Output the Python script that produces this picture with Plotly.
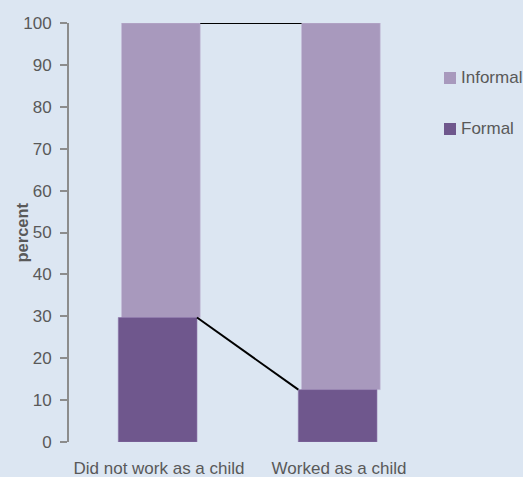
import plotly.graph_objects as go

categories = ["Did not work as a child", "Worked as a child"]
formal = [29.7, 12.5]
informal = [70.3, 87.5]
series_names = ["Informal", "Formal"]
y_ticks = [0, 10, 20, 30, 40, 50, 60, 70, 80, 90, 100]

C_INF = "#A899BD"
C_FOR = "#6F578D"
BG = "#DCE6F2"
TXT = "#595959"
FONT = "Liberation Sans, Arial, sans-serif"

xpos = list(range(len(categories)))
W = 0.437
OFF_INF = -0.208
OFF_FOR = -0.226

fig = go.Figure()
fig.add_trace(go.Bar(
    x=xpos, y=informal, base=formal, name=series_names[0],
    width=W, offset=OFF_INF, marker=dict(color=C_INF, line=dict(width=0.6, color="#C4BBD6")),
    showlegend=False))
fig.add_trace(go.Bar(
    x=xpos, y=formal, name=series_names[1],
    width=W, offset=OFF_FOR, marker=dict(color=C_FOR, line=dict(width=0.6, color="#8C74A8")),
    showlegend=False))

# connector lines between bar tops
tot = [f + i for f, i in zip(formal, informal)]
fig.add_trace(go.Scatter(
    x=[xpos[0] + OFF_INF + W, xpos[1] + OFF_INF], y=[tot[0], tot[1]],
    mode="lines", line=dict(color="black", width=2), showlegend=False, hoverinfo="skip"))
fig.add_trace(go.Scatter(
    x=[xpos[0] + OFF_FOR + W, xpos[1] + OFF_FOR], y=[formal[0], formal[1]],
    mode="lines", line=dict(color="black", width=2), showlegend=False, hoverinfo="skip"))

L, R, T, B = 69, 94, 23, 35
PW = 523 - L - R
PH = 477 - T - B

def px_x(p):
    return (p - L) / PW

def px_y(p):
    return 1 - (p - T) / PH

shapes = []
annotations = []
legend_items = [(series_names[0], C_INF, 78), (series_names[1], C_FOR, 129)]
for name, col, cy in legend_items:
    shapes.append(dict(type="rect", xref="paper", yref="paper",
                       x0=px_x(444), x1=px_x(456), y0=px_y(cy + 6), y1=px_y(cy - 6),
                       fillcolor=col, line=dict(width=0)))
    annotations.append(dict(text=name, xref="paper", yref="paper", x=px_x(459), y=px_y(cy),
                            xanchor="left", yanchor="middle", showarrow=False,
                            font=dict(size=17, color=TXT, family=FONT)))
annotations.append(dict(text="<b>percent</b>", xref="paper", yref="paper", x=px_x(21), y=0.5,
                        xanchor="center", yanchor="middle", textangle=-90, showarrow=False,
                        font=dict(size=16.5, color=TXT, family=FONT)))

fig.update_layout(
    width=523, height=477,
    margin=dict(l=L, r=R, t=T, b=B, pad=0),
    paper_bgcolor=BG, plot_bgcolor=BG,
    barmode="overlay",
    font=dict(family=FONT, size=17, color=TXT),
    shapes=shapes, annotations=annotations,
    xaxis=dict(range=[-0.5, 1.5], tickvals=xpos, ticktext=categories, showgrid=False,
               zeroline=False, showline=False, ticks="", ticklabelstandoff=14,
               automargin=False, fixedrange=True,
               tickfont=dict(size=17, color=TXT, family=FONT)),
    yaxis=dict(range=[0, 100], tickvals=y_ticks, showgrid=False, zeroline=False,
               showline=True, linecolor="#8C8C8C", linewidth=2, ticks="outside",
               ticklen=7, tickwidth=2, tickcolor="#8C8C8C", ticklabelstandoff=5,
               automargin=False, fixedrange=True,
               tickfont=dict(size=17, color=TXT, family=FONT)),
)

fig.write_html("out.html", config={"displayModeBar": False},
               post_script="document.body.style.margin='0';document.body.style.padding='0';")
